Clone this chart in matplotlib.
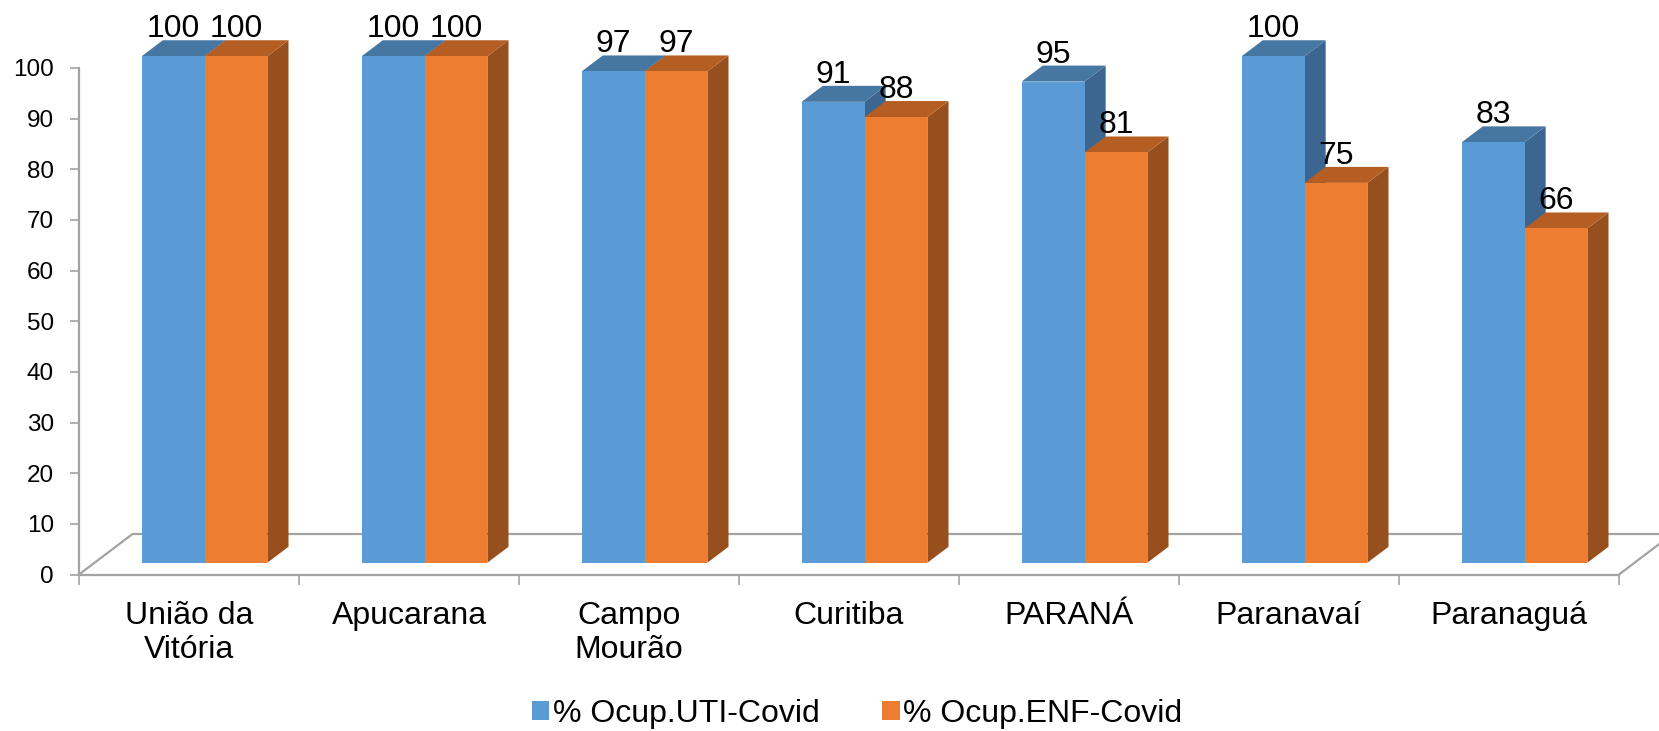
import matplotlib
matplotlib.use("Agg")
import matplotlib.pyplot as plt
from matplotlib.patches import Polygon, Patch
import numpy as np

plt.rcParams['font.family'] = ['Liberation Sans', 'DejaVu Sans']

categories = ["União da\nVitória", "Apucarana", "Campo\nMourão", "Curitiba",
              "PARANÁ", "Paranavaí", "Paranaguá"]
uti = [100, 100, 97, 91, 95, 100, 83]
enf = [100, 100, 97, 88, 81, 75, 66]
series_names = ["% Ocup.UTI-Covid", "% Ocup.ENF-Covid"]
yticks = list(range(0, 101, 10))

front_cols = ["#5B9BD5", "#ED7D31"]
top_cols = ["#4677A3", "#B55E23"]
side_cols = ["#3C6690", "#974F1E"]
grid_col = "#A3A3A3"

W, H = 1659, 731
fig = plt.figure(figsize=(W / 100, H / 100), dpi=100)
ax = fig.add_axes([79 / W, (H - 574.5) / H, 1540 / W, 506.5 / H])
n = len(categories)
ax.set_xlim(0, n)
ax.set_ylim(0, 100)

# oblique depth vector (data units) for full floor depth
DX = 53.5 / 220.0
DY = 40.5 / 5.065
Z0, Z1 = 0.29, 0.685
bw = 1 / 3.5

# floor outline
ax.plot([0, DX, n + DX], [0, DY, DY], color=grid_col, lw=1.6, clip_on=False, zorder=1)
ax.plot([n, n + DX], [0, DY], color=grid_col, lw=1.6, clip_on=False, zorder=1)

centers = np.arange(n) + 0.5
for si, vals in enumerate([uti, enf]):
    lefts = centers - bw + si * bw
    xs = lefts + Z0 * DX
    ax.bar(xs, vals, width=bw, bottom=Z0 * DY, align='edge', color=front_cols[si],
           edgecolor='none', clip_on=False, zorder=3 + si * 3 + 2)
    for xl, v in zip(lefts, vals):
        xr = xl + bw
        top = [(xl + Z0 * DX, v + Z0 * DY), (xr + Z0 * DX, v + Z0 * DY),
               (xr + Z1 * DX, v + Z1 * DY), (xl + Z1 * DX, v + Z1 * DY)]
        side = [(xr + Z0 * DX, Z0 * DY), (xr + Z1 * DX, Z1 * DY),
                (xr + Z1 * DX, v + Z1 * DY), (xr + Z0 * DX, v + Z0 * DY)]
        ax.add_patch(Polygon(side, closed=True, facecolor=side_cols[si], edgecolor='none',
                             clip_on=False, zorder=3 + si * 3))
        ax.add_patch(Polygon(top, closed=True, facecolor=top_cols[si], edgecolor='none',
                             clip_on=False, zorder=3 + si * 3 + 1))
        ax.text(xl + bw / 2 + Z0 * DX, v + Z1 * DY + 0.6, f"{v}", ha='center',
                va='baseline', fontsize=23, color='black', zorder=20, clip_on=False)

for s in ['top', 'right']:
    ax.spines[s].set_visible(False)
for s in ['left', 'bottom']:
    ax.spines[s].set_color(grid_col)
    ax.spines[s].set_linewidth(1.6)
    ax.spines[s].set_zorder(2)

ax.set_yticks(yticks)
ax.set_yticklabels([str(t) for t in yticks])
ax.tick_params(axis='y', direction='out', length=6.5, width=1.2, color=grid_col,
               labelsize=17.5, pad=11.5)
ax.set_xticks(np.arange(n + 1))
ax.set_xticklabels([])
ax.tick_params(axis='x', which='major', direction='out', length=7.2, width=1.2, color=grid_col)
ax.set_xticks(centers, minor=True)
ax.set_xticklabels(categories, minor=True, fontsize=23)
ax.tick_params(axis='x', which='minor', length=0, pad=19)

handles = [Patch(facecolor=front_cols[i], edgecolor='none', label=series_names[i]) for i in range(2)]
fig.legend(handles=handles, loc='center', bbox_to_anchor=(857 / W, 1 - 714 / H), ncol=2,
           frameon=False, fontsize=23, handlelength=0.55, handleheight=0.55,
           handletextpad=0.12, columnspacing=1.95, borderpad=0, borderaxespad=0)

fig.savefig("out.png", dpi=100)
